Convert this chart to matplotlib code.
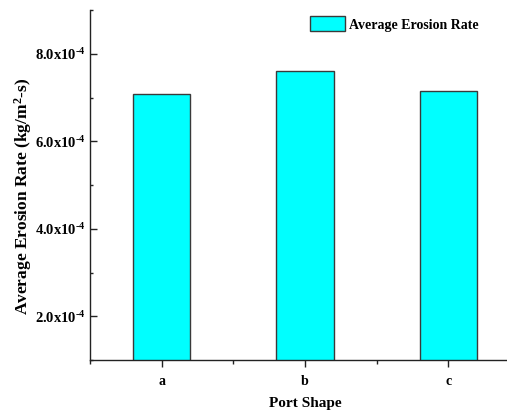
import matplotlib
matplotlib.use("Agg")
import matplotlib.pyplot as plt
from matplotlib.ticker import MultipleLocator

categories = ["a", "b", "c"]
values = [7.08e-4, 7.61e-4, 7.15e-4]
yticks = [2e-4, 4e-4, 6e-4, 8e-4]
ytick_labels = [r"2.0x10$^{\text{-4}}$", r"4.0x10$^{\text{-4}}$",
                r"6.0x10$^{\text{-4}}$", r"8.0x10$^{\text{-4}}$"]

plt.rcParams["font.family"] = ["Liberation Serif", "DejaVu Serif"]
plt.rcParams["font.weight"] = "bold"
plt.rcParams["mathtext.fontset"] = "custom"
plt.rcParams["mathtext.rm"] = "Liberation Serif:bold"
plt.rcParams["mathtext.it"] = "Liberation Serif:bold"
plt.rcParams["mathtext.bf"] = "Liberation Serif:bold"

fig = plt.figure(figsize=(5.07, 4.12), dpi=100)
W, H = 507, 412
ax = fig.add_axes([90 / W, (H - 360) / H, 430 / W, 350 / H])

x = list(range(len(categories)))
ax.bar(x, values, width=0.4, color="#00FFFF", edgecolor="#3a3a3a", linewidth=1.0,
       label="Average Erosion Rate")

ax.set_xlim(-0.5, 2.5)
ax.set_ylim(1e-4, 9e-4)
ax.set_xticks(x)
ax.set_xticklabels(categories)
ax.set_yticks(yticks)
ax.set_yticklabels(ytick_labels)
ax.set_xticks([-0.5, 0.5, 1.5], minor=True)
ax.yaxis.set_minor_locator(MultipleLocator(1e-4))

for s in ["top", "right"]:
    ax.spines[s].set_visible(False)
for s in ["left", "bottom"]:
    ax.spines[s].set_linewidth(1.0)
    ax.spines[s].set_color("#222222")

ax.tick_params(axis="x", which="major", direction="out", length=5, width=1.0,
               labelsize=10, color="#222222", pad=6)
ax.tick_params(axis="x", which="minor", direction="out", length=3, width=1.0,
               color="#222222")
ax.tick_params(axis="y", which="major", direction="in", length=5, width=1.0,
               labelsize=10.5, color="#222222", pad=3)
ax.tick_params(axis="y", which="minor", direction="in", length=2.5, width=1.0,
               color="#222222")

ax.set_xlabel("Port Shape", fontsize=11, fontweight="bold", labelpad=6)
ax.set_ylabel(r"Average Erosion Rate (kg/m$^{\text{2}}$-s)", fontsize=12.5,
              fontweight="bold")
ax.yaxis.set_label_coords((34 - 90) / 430, (360 - 196) / 350)

leg = ax.legend(loc="upper left", bbox_to_anchor=((310 - 90) / 430, 1 - 6.5 / 350),
                frameon=False, fontsize=10, borderpad=0, borderaxespad=0,
                handlelength=2.5, handleheight=1.25, handletextpad=0.3)

fig.savefig("out.png", dpi=100)
